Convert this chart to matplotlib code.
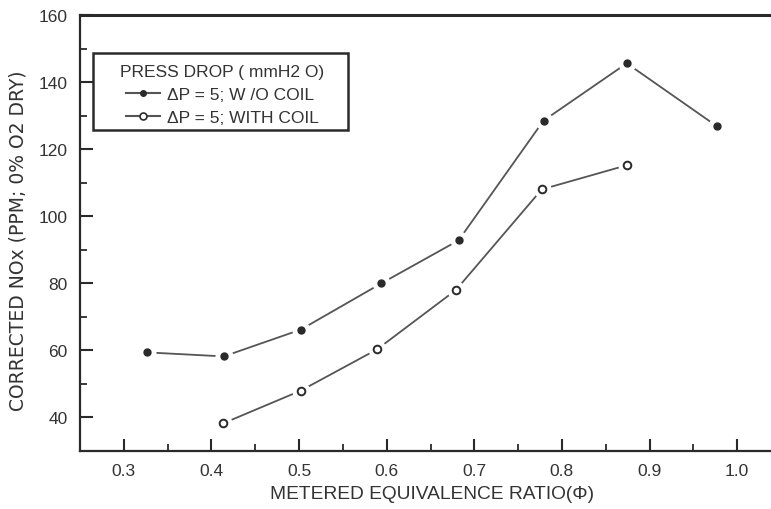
import numpy as np
import matplotlib.pyplot as plt
from matplotlib.ticker import MultipleLocator
from matplotlib.patches import Rectangle

plt.rcParams['font.family'] = ['Liberation Sans', 'DejaVu Sans']

# filled dots: dP = 5, without coil
phi_no_coil = [0.327, 0.414, 0.502, 0.594, 0.682, 0.779, 0.874, 0.977]
nox_no_coil = [59.4, 58.2, 66.2, 80.0, 92.8, 128.5, 145.6, 126.8]

# open circles: dP = 5, with coil
phi_coil = [0.413, 0.502, 0.589, 0.679, 0.777, 0.874]
nox_coil = [38.2, 48.0, 60.3, 78.0, 108.0, 115.2]

line_col = '#555555'
ink = '#2a2a2a'
txt = '#333333'

fig = plt.figure(figsize=(7.71, 5.10), dpi=100)
ax = fig.add_axes([80 / 771, 58 / 510, 701 / 771, 436 / 510])

# lines with small breaks round the markers (white halo under each marker)
ax.plot(phi_no_coil, nox_no_coil, '-', color=line_col, lw=1.3, zorder=2)
ax.plot(phi_coil, nox_coil, '-', color=line_col, lw=1.3, zorder=2)
ax.plot(phi_no_coil, nox_no_coil, 'o', ms=12, color='white', mec='white', zorder=3)
ax.plot(phi_coil, nox_coil, 'o', ms=12, color='white', mec='white', zorder=3)
ax.plot(phi_no_coil, nox_no_coil, 'o', ms=5, color=ink, mec=ink, zorder=4)
ax.plot(phi_coil, nox_coil, 'o', ms=5.5, mfc='white', mec=ink, mew=1.4, zorder=4)

# proxies for the legend
ax.plot([], [], '-', marker='o', ms=4, color=line_col, mfc=ink, mec=ink,
        label='\u0394P = 5; W /O COIL')
ax.plot([], [], '-', marker='o', ms=5, color=line_col, mfc='white', mec=ink,
        mew=1.2, label='\u0394P = 5; WITH COIL')

ax.set_xlim(0.25, 1.05)
ax.set_ylim(30, 160)
ax.xaxis.set_minor_locator(MultipleLocator(0.05))
ax.yaxis.set_minor_locator(MultipleLocator(10))
ax.set_yticks([40, 60, 80, 100, 120, 140, 160])
ax.set_xticks([0.3, 0.4, 0.5, 0.6, 0.7, 0.8, 0.9, 1.0])
ax.set_xticklabels(['0.3', '0.4', '0.5', '0.6', '0.7', '0.8', '0.9', '1.0'])

ax.tick_params(which='major', direction='in', length=9, width=1.5,
               color=ink, labelsize=12.5, labelcolor=txt, pad=9)
ax.tick_params(which='minor', direction='in', length=5, width=1.3, color=ink)
ax.tick_params(top=False, right=False, which='both')

for side in ['left', 'bottom', 'top']:
    ax.spines[side].set_color(ink)
ax.spines['left'].set_linewidth(1.6)
ax.spines['bottom'].set_linewidth(1.6)
ax.spines['top'].set_linewidth(2.2)
ax.spines['right'].set_visible(False)

ax.set_xlabel('METERED EQUIVALENCE RATIO(\u03a6)', fontsize=13.8, color=txt)
ax.set_ylabel('CORRECTED NOx (PPM; 0% O2 DRY)', fontsize=13.5, color=txt,
              family=['DejaVu Sans'])
ax.xaxis.set_label_coords((432 - 80) / 701, -(486 - 452) / 436)
ax.yaxis.set_label_coords(-(80 - 28) / 701, (452 - 241) / 436)

# legend frame drawn separately so its padding can match the scan
ax.add_patch(Rectangle((0.0185, 0.736), 0.3635, 0.177, transform=ax.transAxes,
                       fill=True, facecolor='white', edgecolor=ink, lw=1.8, zorder=5))
leg = ax.legend(loc='upper center', bbox_to_anchor=(0.203, 0.888),
                title='PRESS DROP ( mmH2 O)', fontsize=12.5, title_fontsize=12.5,
                frameon=False, handlelength=2.0, handletextpad=0.4,
                borderpad=0.0, labelspacing=0.45, borderaxespad=0)
leg.set_zorder(6)
for t in leg.get_texts():
    t.set_color(txt)
leg.get_title().set_color(txt)

fig.savefig('out.png', dpi=100)
